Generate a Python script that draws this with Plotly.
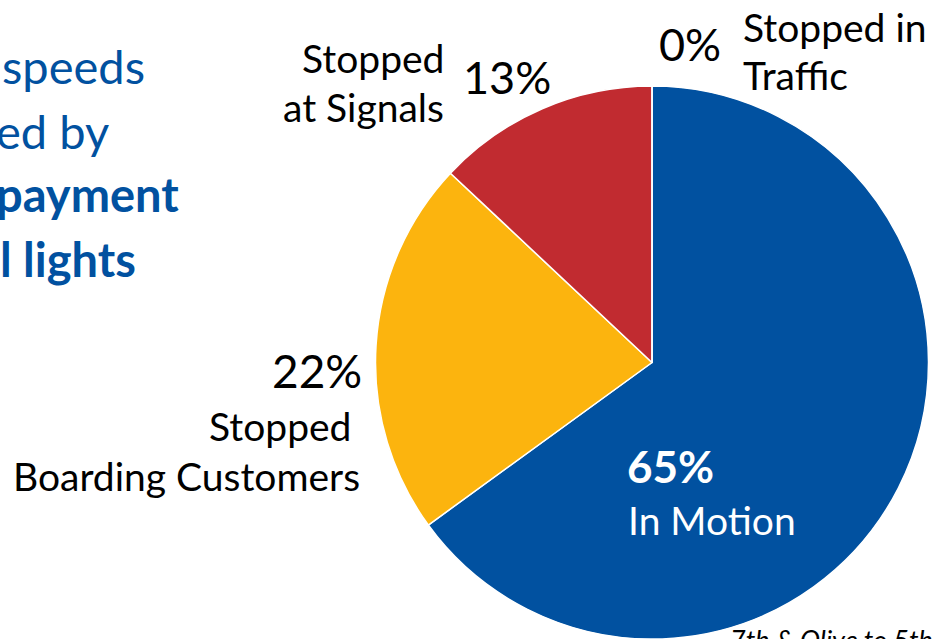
import plotly.graph_objects as go

W, H = 936, 639

categories = ["In Motion", "Stopped Boarding Customers", "Stopped at Signals", "Stopped in Traffic"]
values = [65, 22, 13, 0]
colors = ["#0151A0", "#FCB40E", "#C12B30", "#7F7F7F"]

left_lines = ["speeds", "ed by", "<b>payment</b>", "<b>l lights</b>"]

FONT = "Lato, 'Open Sans', sans-serif"

def px(x):
    return x / W

def py(y):
    return 1 - y / H

fig = go.Figure()
fig.add_trace(go.Pie(
    labels=categories,
    values=values,
    marker=dict(colors=colors, line=dict(color="white", width=1.5)),
    sort=False,
    direction="clockwise",
    rotation=0,
    textinfo="none",
    hoverinfo="label+percent",
    showlegend=False,
    domain=dict(x=[px(652 - 277), px(652 + 277)], y=[0, py(86)]),
))

ann = []

def add(text, x, y, size, color="black", xanchor="center", yanchor="middle", align="center"):
    ann.append(dict(text=text, x=px(x), y=py(y), xref="paper", yref="paper",
                    xanchor=xanchor, yanchor=yanchor, align=align, showarrow=False,
                    font=dict(family=FONT, size=size, color=color)))

# left partial slide text (cropped at the slide edge, as in the reference)
ys = [66, 131, 194, 259]
xs = [0, -6, -6, -2]
for t, x, y in zip(left_lines, xs, ys):
    add(t, x, y, 47, color="#0151A0", xanchor="left")

# labels
add("0%", 690, 44, 45)
add("Stopped in", 741, 27, 39, xanchor="left")
add("Traffic", 741, 75, 39, xanchor="left")

add("Stopped", 446, 58, 39, xanchor="right")
add("at Signals", 446, 107, 39, xanchor="right")
add("13%", 507, 77, 45)

add("22%", 364, 370, 46, xanchor="right")
add("Stopped", 353, 426, 39, xanchor="right")
add("Boarding Customers", 362, 476, 39, xanchor="right")

add("<b>65%</b>", 670, 466, 44, color="white")
add("In Motion", 712, 520, 39, color="white")

add("<i>7th &amp; Olive to 5th &amp; Flower</i>", 728, 621, 27, xanchor="left", yanchor="top")

fig.update_layout(
    width=W, height=H,
    margin=dict(l=0, r=0, t=0, b=0),
    paper_bgcolor="white",
    plot_bgcolor="white",
    annotations=ann,
)

fig.write_html("out.html", config={"displayModeBar": False},
               post_script="document.body.style.margin='0';")
